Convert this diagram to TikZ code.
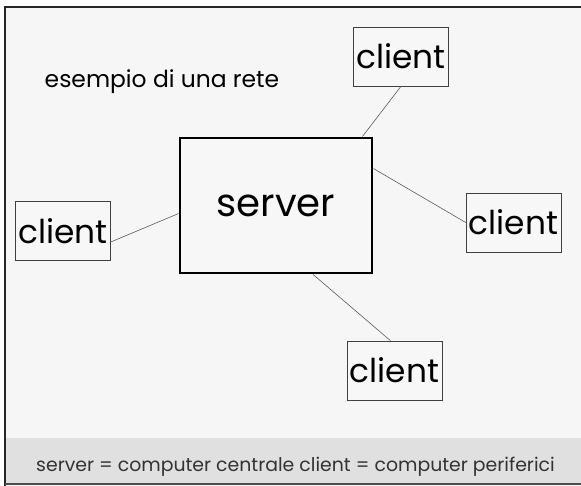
\documentclass[tikz,border=0pt]{standalone}
\usepackage{fontspec}
\newfontfamily\gothic{Poppins}
\usetikzlibrary{calc}

\begin{document}
\begin{tikzpicture}[
    x=0.03cm, y=-0.03cm,
    every node/.style={font=\gothic},
    client/.style={rectangle, draw=black!75, line width=0.5pt, fill=gray!6, minimum width=2.85cm, minimum height=1.77cm, inner sep=0pt, font=\gothic\fontsize{28}{30}\selectfont},
    host/.style={rectangle, draw=black, line width=2.4pt, fill=gray!6, minimum width=5.76cm, minimum height=4.05cm, inner sep=0pt, font=\gothic\fontsize{33}{36}\selectfont},
    link/.style={draw=gray!70!black, line width=0.5pt},
    band/.style={fill=gray!24, draw=none}
]
\useasboundingbox (0,0) rectangle (581,486);

% Page and frame
\fill[gray!7] (5,7) rectangle (581,486);
\fill[band] (5,438) rectangle (581,484);
\draw[line width=2.2pt, black!85] (5,486) -- (5,7) -- (581,7);
\draw[line width=1pt, black!70] (5,484) -- (581,484);

% Title
\node[anchor=base, font=\gothic\fontsize{20}{22}\selectfont] (title) at (162,88) {esempio di una rete};

% Server and clients
\node[host] (server) at (276,205.5) {server};
\node[client] (clientTop) at (401,56.5) {client};
\node[client] (clientLeft) at (63,231) {client};
\node[client] (clientRight) at (513.5,222.5) {client};
\node[client] (clientBottom) at (394.5,370.5) {client};

% Links
\draw[link] (clientTop.south) -- ($(server.north east)+(-11,0)$);
\draw[link] ($(clientLeft.east)+(0,11)$) -- ($(server.west)+(0,8)$);
\draw[link] (clientRight.west) -- ($(server.east)+(0,-37)$);
\draw[link] ($(server.south)+(37,0)$) -- ($(clientBottom.north)+(-4,0)$);

% Caption
\node[anchor=base west, inner sep=0pt, black!80, font=\gothic\fontsize{16.1}{18}\selectfont] (caption) at (36,472) {server = computer centrale client = computer periferici};

\end{tikzpicture}
\end{document}
